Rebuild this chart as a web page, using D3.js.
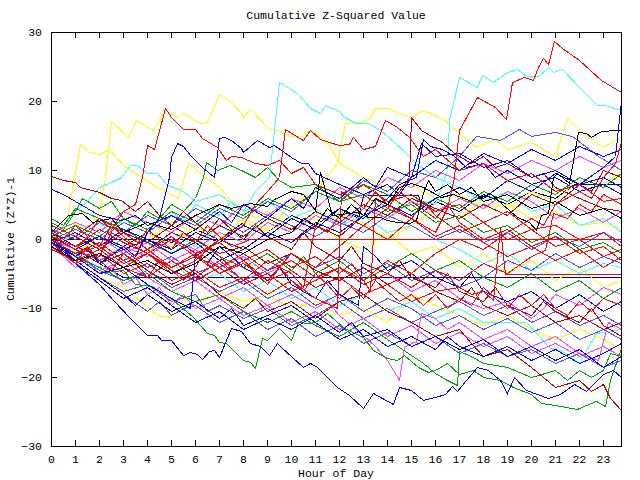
<!DOCTYPE html>
<html>
<head>
<meta charset="utf-8">
<script src="https://cdn.jsdelivr.net/npm/d3@7"></script>
<style>
  body { margin: 0; background: #fff; }
  text { font-family: "Liberation Mono", "DejaVu Sans Mono", monospace; font-size: 11.5px; fill: #000; }
</style>
</head>
<body>
<div id="container"></div>
<script>
// hour ticks and value ticks
var hourTicks = d3.range(0, 24);
var valueTicks = [-30, -20, -10, 0, 10, 20, 30];

var redRuns = [
  "0 0.5, 1 -1, 2 -2.5, 2.5 1, 3.5 -1, 5 -4, 6 -2, 7 -5, 8 -3, 9 -6, 10 -2, 11 -4, 12 -1, 13 2, 14 0, 15 3, 16 1, 16.5 4.5, 16.8 9, 16.9 13.3, 17 15.8, 17.5 19, 17.75 20.6, 18.5 19.1, 18.96 17.4, 19.2 22.8, 19.7 23.5, 20.1 23.1, 20.3 25, 20.5 26.2, 20.7 25.4, 20.96 28.7, 21.3 27.7, 22 25.9, 22.9 23, 23.75 21.3",
  "0 1.5, 0.5 0, 1 2, 1.5 0.5, 2 3, 2.5 1.5, 3 4, 3.5 5, 3.8 9, 4 13.6, 4.3 13, 4.75 19, 5 17.7, 5.5 16, 6 16, 6.3 14.6, 6.9 13.4, 7.3 11.4, 7.5 12, 7.9 11.9, 8.5 11, 9 10.7, 9.5 11.5, 10 9.5, 10.5 10.5, 11 8, 12 6.5, 13 8, 14 5.5, 15 6.5, 16 4, 17 5, 18 2.5, 19 4, 20 1.5, 21 2, 22 0, 23 1, 23.75 -1",
  "0 -1, 1 -3, 2 -1.5, 3 -4, 4 -2, 5 -5, 6 -3, 7 0, 8 2, 8.5 5, 9 7, 9.5 9, 9.75 16, 10.2 15, 10.5 14.3, 10.8 15.8, 11.2 14.5, 11.6 14, 12 13.6, 12.4 13.7, 12.6 14.8, 13 13, 13.5 13.5, 13.9 17.2, 14.4 16.2, 14.9 14.8, 15.5 12, 16 13, 17 10, 18 11, 19 8.5, 20 9.5, 21 7, 22 8, 23 5.5, 23.75 6",
  "0 -0.5, 0.5 -2, 1 -3.5, 1.5 -1, 2 -3, 2.5 -4.5, 3 -2, 3.5 -3.5, 4 -5.5, 4.5 -3, 5 -4.5, 5.5 -6, 6 -4, 6.5 -1, 7 -2.5, 7.5 -4, 8 -3, 8.5 -5, 9 -6.5, 9.5 -4, 10 -6, 10.5 -7.5, 11 -5, 11.5 -6.5, 12 -8.5, 12.5 -7, 13 -8.5, 13.5 -6, 14 -7.5, 14.5 -9, 15 -8, 15.5 -9.5, 16 -8, 16.5 -10, 17 -8.5, 17.5 -9.5, 18 -7, 18.5 -8.5, 19 -10, 19.5 -8, 20 -9.5, 20.5 -8, 21 -10, 21.5 -11, 22 -9, 22.5 -10.5, 23 -8.5, 23.75 -9.5",
  "0 1, 0.5 -0.5, 1 -1.5, 1.5 0.5, 2 -1, 2.5 2, 3 0.5, 3.5 -1, 4 1.5, 4.5 0, 5 -1.5, 5.5 1, 6 -0.5, 6.5 2, 7 0.5, 7.5 -1, 8 -0.5, 8.3 0, 23.75 0",
  "0 0, 1 -2, 2 -0.5, 3 -3, 4 -1.5, 5 -4, 6 -2.5, 7 -5, 8 -3.5, 9 -6, 10 -4.5, 11 -7, 12 -5.5, 13 -8, 14 -6.5, 15 -9, 16 -7.5, 17 -7, 17.5 -8, 18 -7.5, 18.4 -8.8, 18.7 1.7, 18.9 -5.1, 23.75 -5.1",
  "0 0.5, 1 -1, 2 1.5, 3 -0.5, 4 -2, 5 0, 6 -2.5, 7 -4, 8 -2, 9 -4.5, 10 -3, 11 -5.5, 12 -4, 13 -6.5, 14 -5, 15 -7, 16 -4.5, 17 -6, 18 -3.5, 19 -5, 20 -2.5, 20.6 -1.6, 20.9 3.8, 21.5 3, 22 5, 22.5 4, 23 6.5, 23.75 5",
  "0 -1, 1 -3.5, 2 -2, 3 -5, 4 -3.5, 5 -6, 6 -4.5, 7 -7, 8 -5.5, 9 -8, 10 -6, 11 -8.5, 11.9 -10, 12.1 7, 12.5 6, 13 4.5, 13.5 7, 14 5, 15 3, 15.5 5.5, 16 3.5, 17 1, 18 2.5, 19 0, 20 1.5, 21 -1, 22 0, 23 -2.5, 23.75 -1.5",
  "0 2, 1 0.5, 2 3, 3 1, 4 -1.5, 5 0.5, 6 -2, 7 -0.5, 8 -3, 9 -1.5, 10 -4, 11 -2.5, 12 -5, 12.5 -3.5, 13 -6, 13.3 -7.5, 13.5 6, 14 4.5, 14.5 7, 15 5.5, 16 3, 16.5 5, 17 2.5, 18 0, 19 1.5, 20 -1, 21 0.5, 22 -2, 23 -1, 23.75 -3",
  "0 0, 1 -2, 2 -1, 3 -3.5, 4 -2, 5 -4.5, 6 -6, 7 -4, 8 -6.5, 9 -5, 10 -7.5, 11 -6, 12 -4, 13 -6, 14 -3, 15 -5, 16 -2, 17 0, 18 -1.5, 19 1, 20 3, 20.5 2, 21 5, 22 7, 22.5 6, 23 9, 23.5 11, 23.75 14",
  "0 -1.5, 1 -3, 2 -1.5, 3 -4, 4 -5.5, 5 -3, 6 -5.5, 7 -3, 8 -6, 9 -3, 10 -5, 10.5 -7, 11 2, 11.5 1, 12 3.5, 13 2, 14 4.5, 15 3, 16 0.5, 17 2, 18 -0.5, 19 -2.5, 20 -1, 21 -3, 22 -1.5, 23 -4, 23.75 -2.5"
];
var darkRedRuns = [
  "0 9.2, 0.5 8.5, 1 8.3, 1.2 7.5, 2 6.8, 2.5 6, 2.9 5.6, 3.5 4, 4 5.5, 4.5 3.5, 5 2, 5.5 4, 6 2.5, 6.5 1, 7 3, 7.5 1.5, 8 0, 8.5 2, 9 0.5, 10 -1.5, 10.5 1, 11 -1, 12 -3, 12.5 -1, 13 -3.5, 14 -5, 14.5 -3, 15 -5.5, 16 -7, 16.5 -5, 17 -7.5, 18 -9, 18.5 -7, 19 -9.5, 20 -11, 20.5 -9, 21 -10.5, 22 -12, 22.5 -10, 23 -12.5, 23.75 -14",
  "0 -0.5, 1 -2, 2 -0.5, 3 -3, 4 -1.5, 5 -4, 6 -2.5, 7 0, 8 -1.5, 9 1, 10 -0.5, 11 2, 12 0.5, 13 3.5, 14 5, 14.5 7, 14.9 9, 15 17.7, 15.4 15.8, 15.9 14.8, 16.3 14, 16.8 12.5, 17.5 11, 18 12, 18.5 10.5, 19 11, 20 9, 20.5 9.5, 21 7.5, 22 6, 23 4.5, 23.75 4",
  "0 0.5, 1 -1.5, 2 -3.5, 3 -2, 4 -4.5, 5 -6.5, 6 -5, 7 -8, 8 -10, 8.5 -8.5, 9 -10.5, 10 -9, 11 -11.5, 12 -9, 13 -8, 14 -10.5, 15 -12, 16 -14, 17 -13, 17.5 -15, 18 -17, 19 -16, 20 -18.5, 21 -21.5, 22 -20.5, 22.5 -22, 23 -21, 23.3 -23, 23.75 -24.8",
  "0 -1, 1 0.5, 2 -1.5, 3 1, 4 -0.5, 5 2, 6 0, 7 -2, 8 -1, 9 -3.5, 10 -2, 11 -4.5, 12 -6, 13 -4, 14 -6.5, 15 -5, 16 -7.5, 17 -9, 17.5 -7, 18 -9.5, 19 -11, 20 -9.5, 21 -12, 22 -11, 23 -13, 23.75 -12",
  "0 0, 1 -2, 2 -0.5, 3 -3, 4 -1.5, 5 1, 6 -0.5, 7 2, 8 0.5, 9 3, 10 1.5, 11 4, 12 2.5, 13 5, 14 3.5, 15 6, 16 4.5, 17 3, 18 5, 19 3.5, 20 6.5, 21 5, 22 8, 22.5 7, 23 10, 23.75 9"
];
var greenRuns = [
  "0 2.5, 0.5 1.5, 1 4, 1.3 6, 2 4.5, 2.5 5.5, 3 3, 3.5 2, 4 4, 4.5 3, 5 5, 5.5 4, 6 6, 6.35 9, 6.45 11.2, 6.9 10, 7.45 10.7, 7.9 10, 8.5 9, 9 10.5, 9.5 8.5, 10 7.5, 11 8, 12 5.5, 13 6.5, 14 4, 15 5, 16 2.5, 17 3.5, 18 1, 19 2, 20 -0.5, 21 1, 22 -1.5, 23 -0.5, 23.75 -2",
  "0 0.5, 0.5 -1, 1 -2.5, 2 -5, 3 -4.5, 3.5 -6.5, 4.2 -6.8, 5.1 -8.8, 5.9 -11.3, 6.5 -13.6, 6.8 -13.9, 7 -14.9, 7.3 -15.1, 7.6 -16.1, 8 -17.5, 8.3 -17.8, 8.5 -18.7, 8.8 -14.4, 9 -14.6, 9.5 -12.9, 10 -14.6, 10.3 -12, 10.7 -12.2, 11 -12, 11.5 -10.7, 12.2 -12.9, 13 -14.2, 13.4 -16.1, 14 -17.2, 14.4 -17.5, 14.7 -16.8, 15.3 -18.5, 15.7 -19.3, 16 -19, 16.5 -18, 17 -19.5, 17.6 -19, 18 -20, 18.7 -20.5, 19.25 -21.4, 20 -22.5, 20.4 -23.8, 21 -24, 21.9 -24.6, 22.3 -24, 22.7 -23.5, 23.1 -24.2, 23.3 -20.5, 23.75 -15.8",
  "0 3, 0.5 2, 1 4.5, 2 3, 3 1.5, 4 -0.5, 5 -2, 6 0, 7 -2.5, 8 -4, 9 -2, 10 -4.5, 10.5 -2.5, 11 -5, 12 -3, 13 -6, 14 -4, 15 -2, 16 -4.5, 17 -3, 18 -5.5, 19 -7, 20 -5, 21 -7.5, 22 -6, 23 -8.5, 23.75 -7",
  "0 0.5, 1 2, 2 0.5, 3 3, 4 1.5, 5 4, 6 2.5, 7 5, 8 3.5, 9 6, 10 4.5, 11 7, 12 5.5, 13 8, 14 6.5, 15 4, 16 6, 17 4.5, 18 7, 19 5.5, 20 8, 21 6.5, 22 9, 23 7.5, 23.75 9.5",
  "0 -0.5, 1 -2.5, 2 -4, 3 -6, 4 -5, 5 -7.5, 6 -9, 7 -8, 8 -10.5, 9 -12, 10 -10.5, 11 -12.5, 12 -14, 13 -12, 14 -14.5, 15 -16.8, 15.5 -18, 16 -19.4, 16.5 -20.5, 16.9 -21.2, 17 -16.2, 17.5 -17, 18 -18, 19 -18.5, 20 -20, 21 -19, 21.5 -20.5, 22 -19, 22.5 -20, 23 -19, 23.3 -16.5, 23.75 -17"
];
var blueRuns = [
  "0 0, 0.5 -1.5, 1 -3.5, 2 -6.5, 2.6 -8.8, 3.3 -11.5, 4 -13.9, 4.4 -13.9, 4.6 -14.6, 5 -14.6, 5.5 -16.8, 5.8 -16.4, 6.1 -16.6, 6.3 -17.4, 6.6 -16.2, 6.8 -16.1, 7 -17.1, 7.5 -12.9, 7.9 -13.3, 8.3 -15, 8.7 -15.5, 9.1 -16.8, 9.4 -15, 9.6 -15.6, 10.5 -18.5, 10.8 -17.9, 11.1 -18.5, 11.9 -21.4, 12.4 -22.6, 13 -24.5, 13.4 -22.3, 13.8 -23, 14.25 -23.9, 14.5 -21.4, 15 -21.9, 15.5 -23.4, 16 -22.9, 16.4 -22.4, 16.7 -21.3, 16.9 -22, 17.3 -20.4, 17.75 -18.5, 18.2 -19, 18.7 -20.4, 19 -22.3, 19.3 -20, 19.8 -21.9, 20.7 -23, 21.2 -22.5, 21.8 -21, 22.3 -22, 23 -19.5, 23.4 -19, 23.75 -20",
  "0 -0.5, 1 -2.5, 1.5 -1, 2 -3.5, 3 -1, 3.5 -2.5, 4 1, 4.5 3, 4.9 9, 5 11.9, 5.25 13.9, 5.5 13.5, 5.8 12.2, 6.3 10.4, 6.8 9, 7 14.6, 7.2 14.8, 7.5 14.3, 7.9 13.2, 8 12.6, 8.6 14.3, 8.8 13.9, 9.1 13.4, 9.3 13.6, 10 11.9, 10.4 11, 10.7 11, 11 9.5, 12 8, 13 6.5, 14 8, 14.5 6.5, 15 9, 15.4 13.9, 16 12, 17 12.5, 18 10.5, 19 11.5, 20 9, 21 10, 22 8, 23 9, 23.75 7.5",
  "0 -1, 1 -3.5, 2 -6, 3 -8.5, 4 -7, 5 -9.5, 6 -12, 7 -10.5, 8 -13, 9 -11.5, 10 -13, 11 -11, 12 -13.5, 12.5 -12, 13 -14, 14 -13, 15 -15.5, 16 -14, 17 -16, 18 -14.5, 19 -17, 20 -15.5, 21 -17.5, 22 -16, 23 -18.5, 23.75 -17",
  "0 0, 1 -2.5, 2 -5, 3 -4, 4 -6.5, 5 -8.5, 5.8 -10, 6 -2, 6.5 -3.5, 7 -1, 7.5 -2.5, 8 -4, 9 -6, 9.5 -4, 10 -6.5, 11 -8.5, 11.5 -6, 12 -8, 12.8 -9.5, 13 -1, 13.5 -2.5, 14 -4.5, 15 -3, 16 -5.5, 17 -7, 17.5 -5, 18 -7.5, 19 -9, 20 -7.5, 21 -10, 22 -8, 23 -10.5, 23.75 -9",
  "0 7.3, 0.5 6.5, 1 5.5, 1.5 4.5, 2 3.5, 2.9 2.7, 3.5 3.5, 4 2, 5 3.5, 6 1.5, 7 4, 7.5 2.5, 8 5, 9 3, 10 6, 10.5 4.5, 11 7.5, 12 6, 13 9, 13.5 7.5, 14 10.5, 15 9, 16 11.5, 17 10, 18 12.5, 19 11, 20 13, 21 11.5, 22 13.5, 23 12, 23.75 13",
  "0 1, 1 -1, 2 0.5, 3 -1.5, 4 0, 5 -2, 6 -0.5, 7 -3, 8 -1.5, 9 1, 10 -0.5, 11 2.5, 12 1, 13 3.5, 14 5, 15 3.5, 16 6, 17 7.5, 18 6, 19 8.5, 20 7, 21 9.5, 22 8, 23 10.5, 23.5 12, 23.75 20",
  "0 -0.5, 1 1, 2 -1, 3 1.5, 4 0, 5 -1.5, 6 1, 7 -0.5, 8 2, 9 0.5, 10 3, 11 1.5, 12 4.5, 13 3, 14 6, 14.5 8, 15.2 9, 15.5 14.5, 15.8 13.5, 16.3 13, 16.8 12, 17.3 10.5, 18 11, 18.5 9, 19 10, 20 8, 21 9, 22 7, 23 8, 23.75 6.5",
  "0 -0.5, 1 -3, 2 -5.5, 3 -8, 3.5 -9.5, 4 -8, 5 -10.5, 6 -9, 7 -11.5, 7.5 -10, 8 -12.5, 9 -11, 10 -9.5, 11 -12, 12 -14.5, 13 -13, 14 -15.5, 15 -14, 16 -16, 16.5 -14, 17 -15.5, 18 -17, 19 -15.5, 20 -17.5, 21 -16, 22 -18, 23 -16.5, 23.75 -15"
];
var lightBlueRuns = [
  "0 0, 1 1.5, 2 0, 3 2.5, 4 1, 5 3.5, 6 2, 7 4.5, 8 3, 9 5.5, 10 4, 11 7, 12 5.5, 13 8.5, 14 7, 15 10, 16 9, 17 12, 17.7 15, 18.7 14.3, 19.5 16, 20 15, 21 15.5, 21.7 15, 22.8 12, 23.3 11, 23.75 10",
  "0 -1, 1 -3, 2 -5.5, 3 -7.5, 4 -6.5, 5 -9, 6 -8, 6.5 -10.5, 7 -9.5, 8 -11.5, 9 -10, 10 -12.5, 11 -11, 12 -9, 13 -11.5, 14 -10, 15 -12, 16 -10.5, 17 -9, 18 -11, 19 -9.5, 20 -12, 21 -10.5, 22 -12.5, 23 -11, 23.75 -12.5",
  "0 0.5, 1 -1.5, 2 -3, 3 -1.5, 4 -4, 5 -2.5, 6 -5, 7 -3.5, 8 -6, 9 -4.5, 10 -2, 11 -4, 12 -2.5, 13 -5, 14 -3.5, 15 -6, 16 -4.5, 17 -7, 18 -5.5, 19 -3, 20 -4.5, 21 -2, 22 -4, 23 -2.5, 23.75 -3.5",
  "0 1.5, 1 0, 2 2.5, 3 1, 4 3.5, 5 2, 6 4.5, 7 3, 8 1, 9 3.5, 10 2, 11 0.5, 12 2.5, 13 1, 14 3.5, 15 2, 16 0, 17 1.5, 18 -0.5, 19 1, 20 -1.5, 21 0.5, 22 -1, 23 1, 23.75 -0.5",
  "0 0, 0.5 -1.5, 1 -3, 2 -5.5, 3 -8, 4 -10.5, 4.5 -9, 5 -11, 5.5 -10, 6 -9.5, 7 -12, 8 -10.5, 9 -13, 10 -11.5, 11 -14, 12 -12.5, 13 -15, 14 -13.5, 15 -15.5, 16 -14, 17 -16.5, 18 -15, 19 -17, 20 -16, 21 -18, 22 -16.5, 23 -18.5, 23.75 -17.5",
  "0 0, 1 -2, 2 -4.5, 3 -6, 4 -4.5, 5 -7, 6 -5.5, 7 -7.5, 8 -6, 9 -8.5, 10 -7, 11 -9.5, 12 -8, 13 -10.5, 14 -8.5, 15 -10, 16 -12.5, 17 -11, 18 -13, 19 -11.5, 20 -13.5, 21 -12, 22 -14.5, 23 -13, 23.75 -14.5"
];
var magentaRuns = [
  "0 -0.5, 1 -2.5, 2 -4.5, 3 -3, 4 -5.5, 5 -7.5, 6 -6, 7 -8.5, 8 -7, 9 -9.5, 10 -8, 11 -10, 11.5 -9, 12 -11, 13 -13.9, 13.5 -15.5, 14 -17.5, 14.5 -20.4, 14.7 -15.6, 15.1 -14.9, 15.2 -14.9, 15.4 -10.7, 16 -11.5, 16.5 -13, 17 -12, 18 -14.5, 19 -13, 20 -15.5, 21 -14, 22 -16.5, 22.8 -17.5, 23.2 -12, 23.75 -13",
  "0 0.5, 1 -1, 2 0.5, 3 -2, 4 -0.5, 5 -3, 6 -1.5, 7 -4, 8 -2.5, 9 -5, 10 -3, 11 -5.5, 12 -4, 13 -6.5, 14 -5, 15 -7.5, 16 -6, 17 -8.5, 18 -10, 19 -9, 20 -11.5, 20.5 -10, 21 -8, 22 -9.5, 23 -7, 23.75 -8",
  "0 1, 1 2.5, 2 1, 3 4, 4 2.5, 5 1, 6 3.5, 7 2, 8 5, 9 3.5, 10 6, 11 4.5, 12 7.5, 13 6, 14 9, 15 7.5, 16 10, 17 8.5, 18 11, 19 9.5, 20 11.5, 21 10, 22 12, 23 10.5, 23.75 11.5",
  "0 -1, 0.5 -2.5, 1 -4, 1.5 -3, 2 -5, 2.5 -4, 3 -6.5, 3.5 -5.5, 4 -8, 4.5 -7, 5 -9.5, 5.5 -8, 6 -10, 7 -8.5, 8 -11, 9 -9.5, 10 -12, 11 -10.5, 12 -13, 13 -11.5, 14 -14, 15 -12.5, 16 -15, 17 -13.5, 18 -15.5, 19 -14, 20 -16.5, 21 -15, 22 -17, 23 -15.5, 23.75 -17",
  "0 0, 1 -1.5, 2 -3, 3 -1, 4 -2.5, 5 0, 6 -1.5, 7 1, 8 -0.5, 9 2.5, 10 1, 11 3.5, 12 2, 13 4.5, 14 3, 15 5.5, 16 4, 17 6, 18 4.5, 19 7, 20 5.5, 21 3, 22 4.5, 23 2.5, 23.75 4"
];
var cyanRuns = [
  "0 -0.5, 1 0.5, 2 -1.5, 3 0, 4 -2, 5 1, 6 -1, 7 2, 8 0, 9 3, 10 1, 11 4, 12 2, 13 5, 14 3, 15 6, 16 5, 16.5 10, 16.6 17.2, 17 23.5, 17.75 22, 17.96 23.8, 18.4 22.8, 19 24.2, 19.4 24.6, 19.8 23.6, 20.3 23.6, 20.7 25, 20.9 24.2, 21.3 24.7, 22 22, 22.75 19.4, 23.1 19.4, 23.75 18.7",
  "0 0.5, 0.5 -0.5, 1 1.5, 2 2.5, 2.5 1, 3 3, 4 1.5, 5 4, 5.5 2.5, 6 5, 7 3.5, 7.5 5.5, 8 4, 8.5 7, 9.1 9, 9.5 22.8, 9.9 21.9, 10.3 21, 10.8 19, 11.2 18.3, 11.4 19.4, 12 18.6, 12.2 17.7, 12.7 16.8, 13.2 16.8, 13.7 15.8, 14.3 14, 14.8 12.4, 15.2 11, 16 9, 17 7.5, 18 5.5, 19 7, 20 4, 21 5, 22 2, 23 3, 23.75 1",
  "0 0, 0.5 2, 1 4, 1.5 5.5, 2 7.5, 2.5 8.3, 2.9 9, 3.3 10.7, 3.6 10.7, 4 9.5, 4.4 9.5, 4.8 8, 5.5 7, 6 5.5, 7 6.5, 8 4, 9 5.5, 10 3, 11 4.5, 12 2, 13 3.5, 14 1, 15 2, 16 0, 17 -1.5, 18 -3.5, 19 -2, 20 -4.5, 21 -3, 22 -5, 23 -3.5, 23.75 -4",
  "0 -0.5, 1 -2, 2 -4, 3 -2.5, 4 -5, 5 -3.5, 6 -6, 7 -5, 8 -7.5, 9 -6, 10 -8.5, 11 -7, 12 -9.5, 13 -8, 14 -10.5, 15 -9, 16 -11.5, 17 -10, 18 -12, 19.8 -12, 20.8 -15.8, 21.3 -16.2, 22 -18, 22.7 -13.6, 23.75 -13"
];
var yellowRuns = [
  "0 0, 0.6 1.5, 0.9 8, 1.2 13.8, 1.6 12.6, 2 12.3, 2.4 13.1, 3 10.7, 3.4 9.7, 3.8 9, 4.2 8, 5.3 6, 5.7 11, 6.2 9.5, 7 7.5, 7.5 5.5, 8.5 3, 9 4, 10 1.5, 11 3, 12 0, 13 -1.5, 14 1, 15 -2, 16 -1, 17 -4, 18 -2, 19 -5, 20 -3, 21 -6, 22 -4, 23 -7, 23.75 -6",
  "0 1, 0.5 0, 1 2.5, 1.5 1, 2 4, 2.25 9, 2.5 17.1, 3.2 14.8, 3.54 17.2, 4.25 15.8, 4.75 18.7, 5.25 17.7, 5.5 18.3, 6.2 16.8, 6.5 16.9, 7 21, 7.5 19.8, 7.9 18.3, 8 17.7, 8.3 18.8, 9.1 16, 9.5 15.8, 9.9 15, 10.4 15, 10.7 15.8, 11 15.4, 11.6 13.6, 12 11, 12.3 10.5, 13 9, 14 7.5, 15 8, 16 6, 17 6.5, 18 4.5, 19 5, 20 3, 21 4, 22 2, 23 2.5, 23.75 1.5",
  "0 -0.5, 1 -2, 2 0.5, 3 -1.5, 4 1, 5 -1, 6 2, 7 0, 8 3, 9 1.5, 10 5, 11 7, 11.9 11, 12.25 16.8, 12.9 17, 13.3 17.5, 13.5 19, 14 19, 14.5 18.3, 15 17.7, 15.5 18.7, 16.3 17.5, 17 15.3, 17.7 13.3, 18.5 14.5, 19 13, 20 14, 21 12, 21.5 17.5, 22 15.8, 22.5 14.5, 23 13.3, 23.75 15",
  "0 -0.5, 1 -3, 2 -5.5, 3 -7, 3.9 -9.6, 4.4 -11, 4.9 -11.3, 5.2 -10, 5.5 -8.5, 6 -9.5, 7 -7.5, 8 -9, 9 -8, 10 -10, 11 -9, 12 -11, 13 -10, 14 -12, 15 -8, 16 -9.5, 17 -11, 18 -12.5, 19 -11, 20 -13, 21 -14.5, 22 -13, 23 -14.5, 23.75 -16",
  "0 2, 1 0.5, 2 -1, 3 1.5, 4 0, 5 2.5, 6 1, 7 4, 8 2.5, 9 1, 10 3, 11 1.5, 12 4, 13 2.5, 14 0, 15 2, 16 4.5, 17 3, 18 6, 19 4.5, 20 7, 21 5.5, 22 9, 23 7.5, 23.75 10"
];
var blackRuns = [
  "0 -1, 1 -3, 2 -2, 3 -4, 4 -3, 5 -5, 6 -3.5, 7 -1, 8 -2, 9 0, 10 1, 10.5 3, 11 2, 11.5 4.5, 12 3, 12.5 5, 13 3.5, 13.5 6, 14 5, 14.5 7.5, 15 8.1, 15.5 7.5, 16.25 6.1, 16.75 6.5, 17.5 5.5, 18.3 6.7, 18.8 5, 19.4 3.2, 19.9 2.5, 20.2 1.3, 20.4 3.5, 20.7 3.8, 20.9 9, 21.1 9.6, 21.6 8.1, 21.96 15.5, 22.3 15.4, 22.5 14.8, 22.9 15.7, 23.6 15.8, 23.75 15.8",
  "0 1, 0.7 3.5, 1.3 3.8, 1.7 2.5, 2.5 3, 3 1, 4 2.5, 5 1.5, 6 3.5, 7 5, 7.5 4.5, 8.3 5.2, 9 4.8, 9.3 5.8, 10 7, 10.5 6.5, 11 4.2, 11.2 9.7, 11.7 3.5, 12.75 3.9, 13.2 3.2, 13.7 3.2, 14 2.8, 14.4 2.5, 14.9 2.3, 15.2 2.8, 15.5 6.7, 15.7 8.6, 16 7, 16.5 8, 17 6.5, 17.5 7.5, 18 5.5, 19 6.5, 20 4.5, 21 5.5, 22 3.5, 23 4.5, 23.75 3"
];
var navyRuns = [
  "0 0, 8.3 0",
  "0 -0.5, 0.5 -1.5, 1 -2.5, 1.5 -1.5, 2 -3.5, 2.5 -4.5, 3 -5.5, 23.75 -5.5",
  "0 0, 1 -1.5, 2 0.5, 3 -1, 4 1, 5 -0.5, 6 1.5, 7 0, 8 2.5, 9 1, 10 3.5, 11 2, 12 4.5, 12.8 3, 13 6.4, 15.3 6.4, 15.5 4, 16 5.5, 17 4, 18 6.5, 19 5, 20 7, 21 6, 21.8 8, 23.75 8"
];

var runGroups = [
  { color: "#000080", runs: navyRuns },
  { color: "#ffff00", runs: yellowRuns },
  { color: "#40ffff", runs: cyanRuns },
  { color: "#ff40ff", runs: magentaRuns },
  { color: "#5050ff", runs: lightBlueRuns },
  { color: "#00a000", runs: greenRuns },
  { color: "#b00000", runs: darkRedRuns },
  { color: "#0000ff", runs: blueRuns },
  { color: "#ff0000", runs: redRuns },
  { color: "#000000", runs: blackRuns }
];

function parseRun(s) {
  return s.split(",").map(function(p) {
    var a = p.trim().split(/\s+/);
    return { h: +a[0], v: +a[1] };
  });
}

var W = 640, H = 480;
var margin = { left: 51, right: 19, top: 32, bottom: 34 };

var svg = d3.select("#container").append("svg")
  .attr("width", W).attr("height", H);

var x = d3.scaleLinear().domain([0, 23.75]).range([margin.left, W - margin.right]);
var y = d3.scaleLinear().domain([-30, 30]).range([H - margin.bottom, margin.top]);

svg.append("clipPath").attr("id", "plotclip")
  .append("rect")
  .attr("x", margin.left).attr("y", margin.top)
  .attr("width", W - margin.right - margin.left + 1)
  .attr("height", H - margin.bottom - margin.top + 1);

var line = d3.line()
  .x(function(d) { return Math.round(x(d.h)) + 0.5; })
  .y(function(d) { return Math.round(y(d.v)) + 0.5; });

var lines = svg.append("g").attr("clip-path", "url(#plotclip)");
runGroups.forEach(function(g) {
  lines.selectAll(null)
    .data(g.runs.map(parseRun))
    .enter().append("path")
    .attr("d", line)
    .attr("fill", "none")
    .attr("stroke", g.color)
    .attr("stroke-width", 1)
    .attr("shape-rendering", "crispEdges");
});

// frame and ticks
var axes = svg.append("g").attr("shape-rendering", "crispEdges");
axes.append("rect")
  .attr("x", margin.left + 0.5).attr("y", margin.top + 0.5)
  .attr("width", W - margin.right - margin.left)
  .attr("height", H - margin.bottom - margin.top)
  .attr("fill", "none").attr("stroke", "#000");

var xAxisBottom = d3.axisBottom(x).tickValues(hourTicks).tickSizeInner(-6).tickSizeOuter(0).tickPadding(9);
var xAxisTop = d3.axisTop(x).tickValues(hourTicks.slice(1)).tickSizeInner(-6).tickSizeOuter(0).tickFormat("");
var yAxisLeft = d3.axisLeft(y).tickValues(valueTicks).tickSizeInner(-6).tickSizeOuter(0).tickPadding(9);

[axes.append("g").attr("transform", "translate(0," + Math.round(y(-30)) + ")").call(xAxisBottom),
 axes.append("g").attr("transform", "translate(0," + Math.round(y(30)) + ")").call(xAxisTop),
 axes.append("g").attr("transform", "translate(" + Math.round(x(0)) + ",0)").call(yAxisLeft)
].forEach(function(a) {
  a.select(".domain").remove();
  a.selectAll("text").attr("font-family", null).attr("font-size", null);
  a.selectAll(".tick line").attr("stroke", "#000");
});

svg.append("text").attr("x", 336).attr("y", 19).attr("text-anchor", "middle")
  .text("Cumulative Z-Squared Value");
svg.append("text").attr("x", 336).attr("y", 477).attr("text-anchor", "middle")
  .text("Hour of Day");
svg.append("text").attr("transform", "translate(14,239) rotate(-90)").attr("text-anchor", "middle")
  .text("Cumulative (Z*Z)-1");
</script>
</body>
</html>
